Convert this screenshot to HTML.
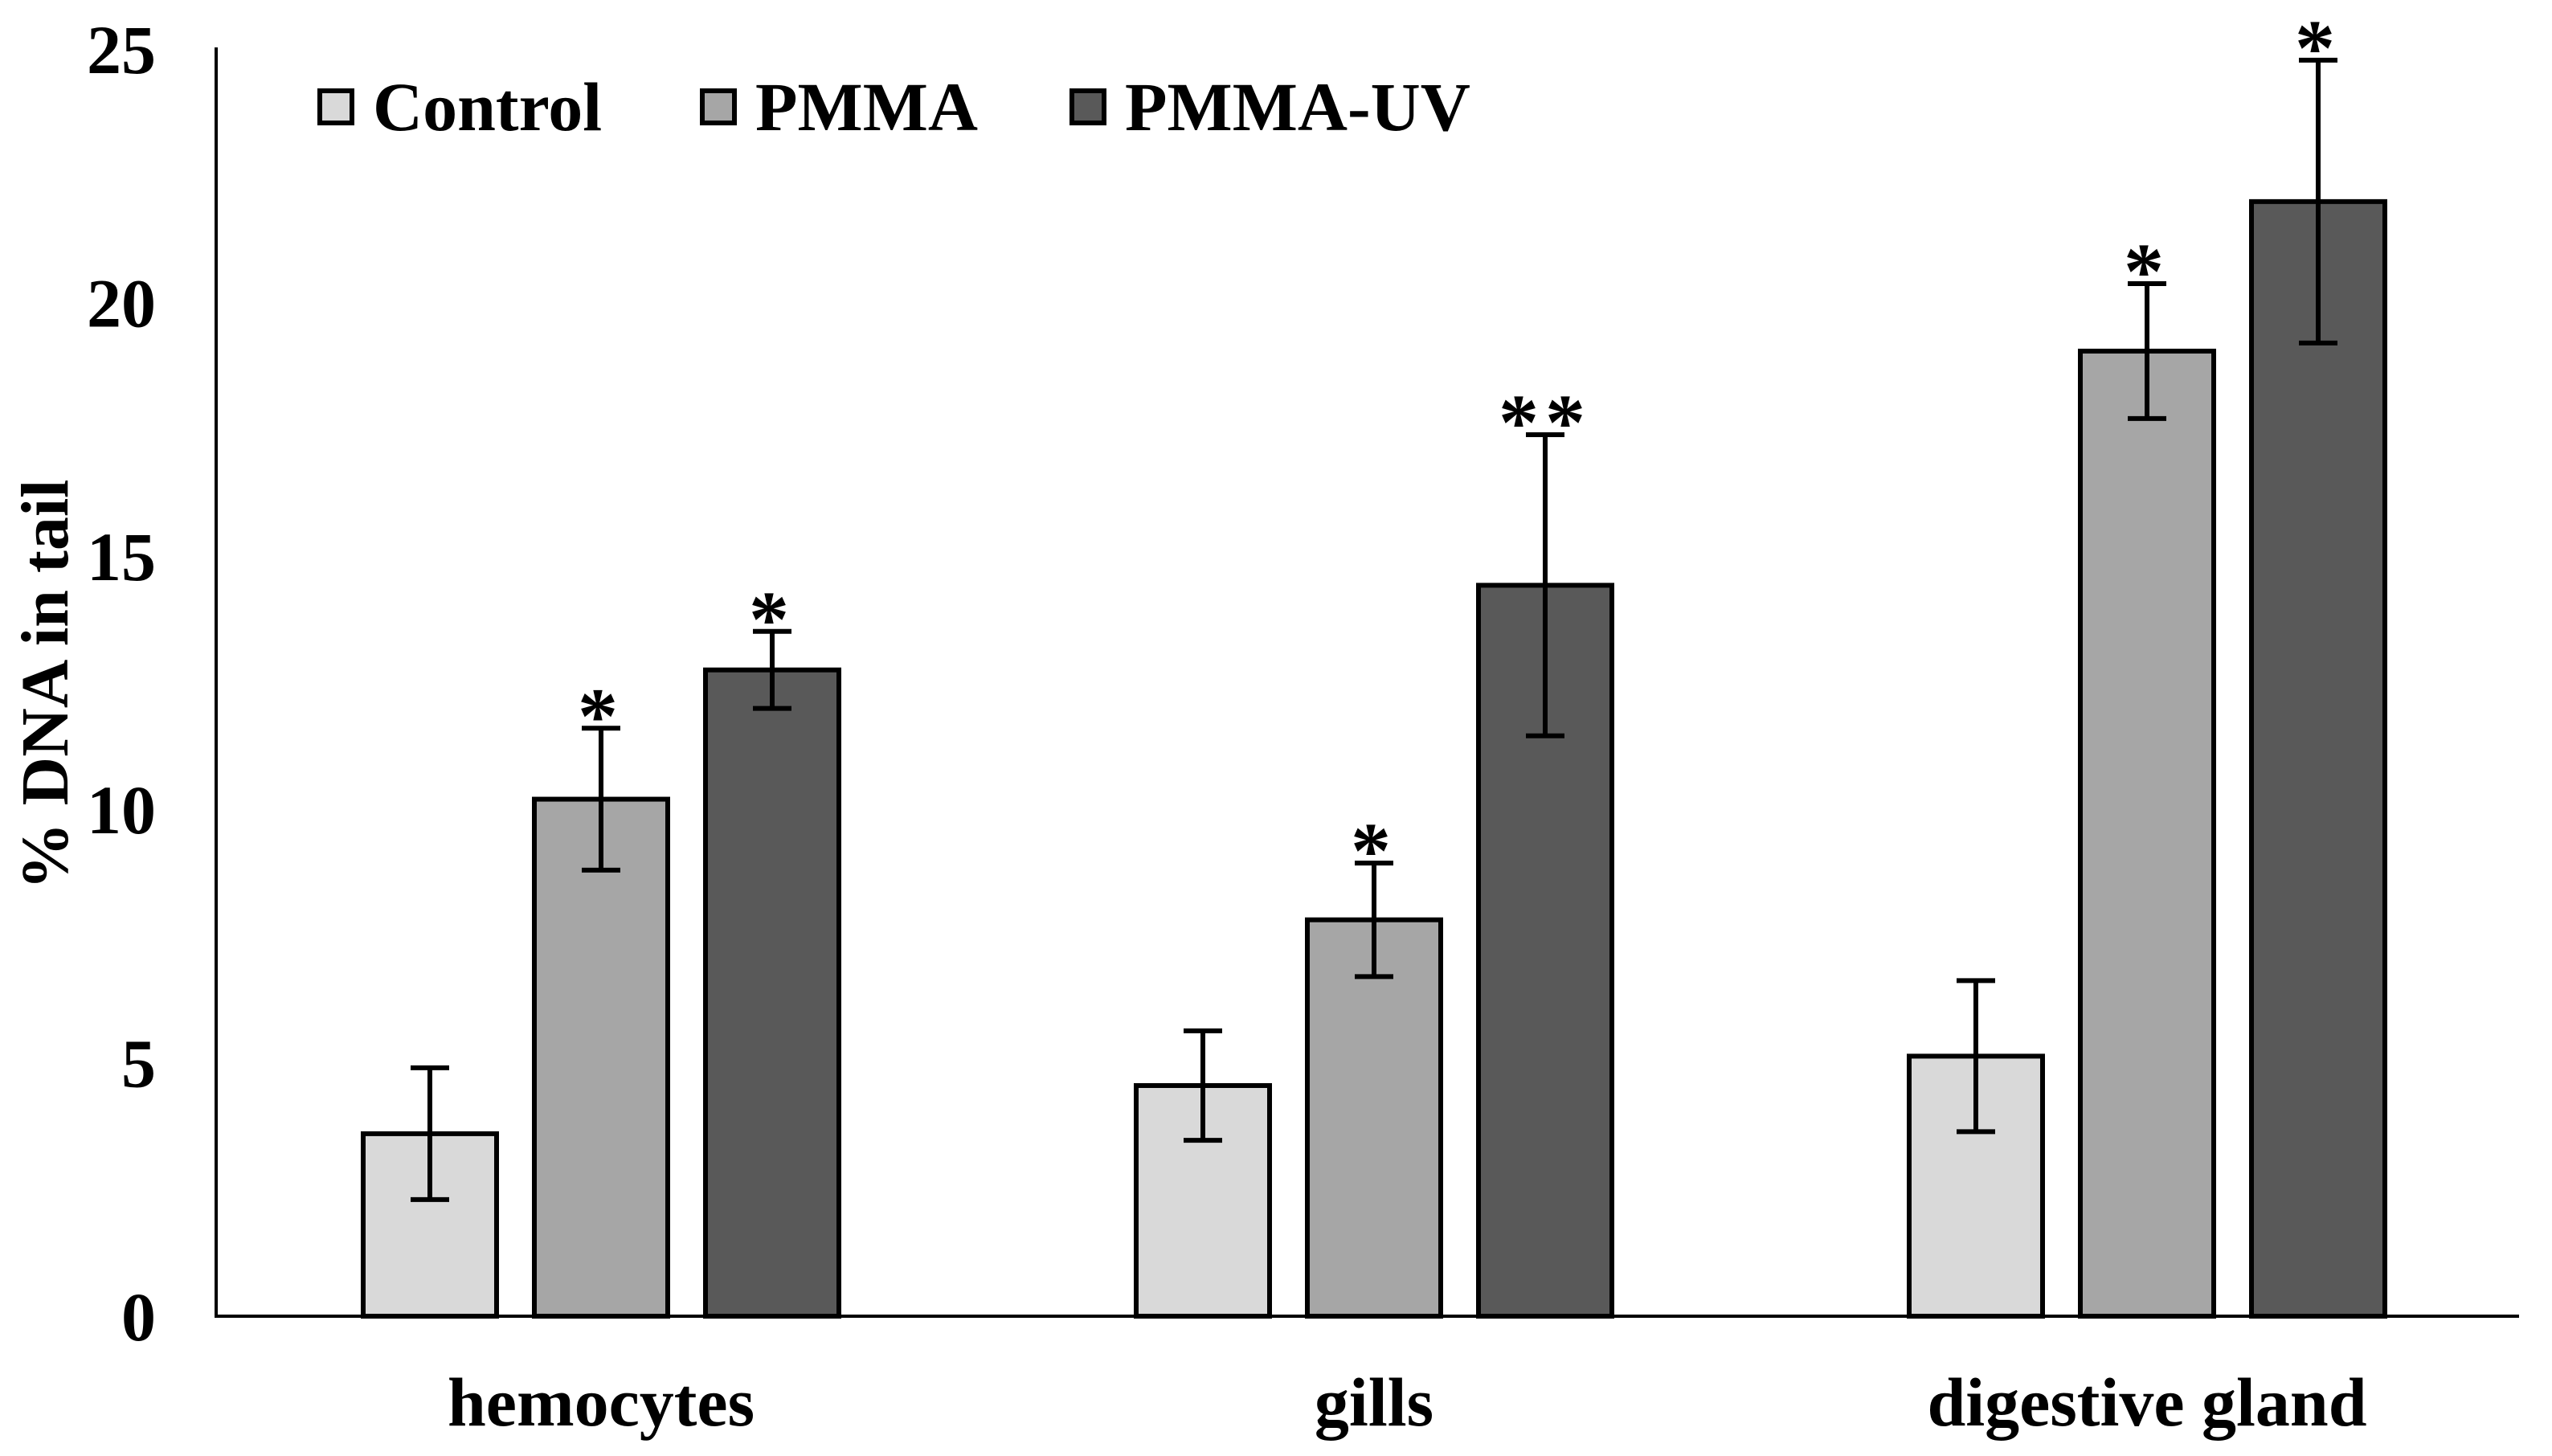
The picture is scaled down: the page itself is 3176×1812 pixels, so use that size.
<!DOCTYPE html>
<html><head><meta charset="utf-8"><style>
html,body{margin:0;padding:0;background:#fff}
svg{display:block}
text{font-family:"Liberation Serif",serif;font-weight:bold;fill:#000}
</style></head><body>
<svg id="chart" width="3176" height="1812" viewBox="0 0 3176 1812" xmlns="http://www.w3.org/2000/svg">
<g id="bars"></g>
<g id="axes"></g>
<g id="legend"></g>
</svg>
<script>
const categories = ["hemocytes", "gills", "digestive gland"];
const seriesNames = ["Control", "PMMA", "PMMA-UV"];
const controlValues = [3.6, 4.55, 5.13];
const pmmaValues = [10.2, 7.82, 19.04];
const uvValues = [12.75, 14.42, 21.99];
const controlErr = [1.3, 1.08, 1.49];
const pmmaErr = [1.4, 1.12, 1.33];
const uvErr = [0.76, 2.97, 2.79];
const controlSig = ["", "", ""];
const pmmaSig = ["*", "*", "*"];
const uvSig = ["*", "**", "*"];
const yTicks = [0, 5, 10, 15, 20, 25];

const NS = "http://www.w3.org/2000/svg";
const X0 = 269, X1 = 3135, Y0 = 1638, YTOP = 61, YMAX = 25;
const y = v => Y0 - (Y0 - YTOP) * v / YMAX;
const catW = 962;
const catX = i => 748 + catW * i;
const barW = 166, barStep = 213;
const fills = ["#d9d9d9", "#a6a6a6", "#595959"];
const values = [controlValues, pmmaValues, uvValues];
const errs = [controlErr, pmmaErr, uvErr];
const sigs = [controlSig, pmmaSig, uvSig];

function mk(tag, attrs, parent) {
  const e = document.createElementNS(NS, tag);
  for (const k in attrs) e.setAttribute(k, attrs[k]);
  parent.appendChild(e);
  return e;
}
const gb = document.getElementById("bars");
const ga = document.getElementById("axes");
const gl = document.getElementById("legend");

for (let s = 0; s < 3; s++) {
  for (let i = 0; i < categories.length; i++) {
    const cx = catX(i) + (s - 1) * barStep;
    const v = values[s][i];
    const r = mk("rect", {x: cx - barW / 2, y: y(v), width: barW, height: Y0 - y(v), fill: fills[s], stroke: "#000", "stroke-width": 6}, gb);
    
    
    const e = errs[s][i];
    const top = y(v + e), bot = y(v - e);
    const eb = mk("path", {d: `M${cx},${top}V${bot}M${cx - 24},${top}H${cx + 24}M${cx - 24},${bot}H${cx + 24}`, stroke: "#000", "stroke-width": 6, fill: "none"}, gb);
    
    
    if (sigs[s][i]) {
      const t = mk("text", {x: cx, y: top + 18, "text-anchor": "middle", "font-size": 100, "letter-spacing": 8}, gb);
      t.textContent = sigs[s][i];
      
      
    }
  }
}

const yl = mk("line", {x1: X0, y1: YTOP - 2, x2: X0, y2: Y0, stroke: "#000", "stroke-width": 4}, ga);


const xl = mk("line", {x1: X0 - 2, y1: Y0, x2: X1, y2: Y0, stroke: "#000", "stroke-width": 4}, ga);



for (const t of yTicks) {
  const tx = mk("text", {x: 194, y: y(t) + 30, "text-anchor": "end", "font-size": 86}, ga);
  tx.textContent = t;
  
  
}
categories.forEach((c, i) => {
  const tx = mk("text", {x: catX(i), y: 1774, "text-anchor": "middle", "font-size": 86}, ga);
  tx.textContent = c;
  
  
});
const yt = mk("text", {x: 0, y: 0, "text-anchor": "middle", "font-size": 84, transform: "translate(84,852) rotate(-90)"}, ga);
yt.textContent = "% DNA in tail";



const legX = [395, 871, 1331];
seriesNames.forEach((n, s) => {
  const g = mk("g", {}, gl);
  
  
  mk("rect", {x: legX[s] + 3, y: 113, width: 40, height: 40, fill: fills[s], stroke: "#000", "stroke-width": 6}, g);
  const t = mk("text", {x: legX[s] + 69, y: 162, "font-size": 86}, g);
  t.textContent = n;
});
</script>
</body></html>
